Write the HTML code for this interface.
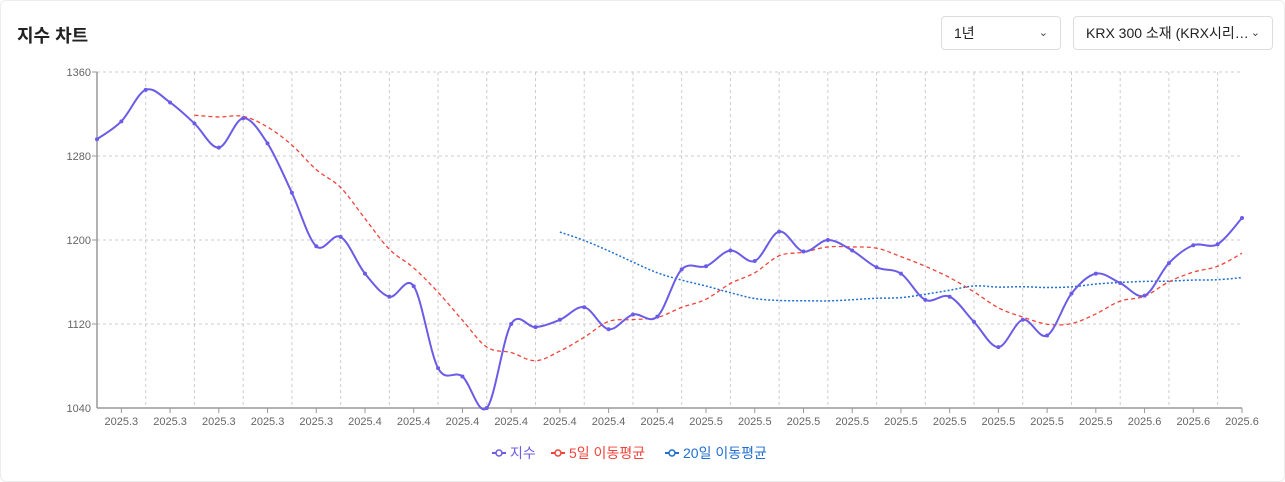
<!DOCTYPE html>
<html><head><meta charset="utf-8"><style>
body{margin:0;width:1285px;height:482px;background:#fff;font-family:"Liberation Sans","Noto Sans CJK KR",sans-serif;overflow:hidden}
.card{position:absolute;left:0;top:0;width:1283px;height:480px;border:1px solid #ececec;border-radius:6px}
.title{position:absolute;left:17px;top:22px;font-size:18px;font-weight:bold;color:#222}
.sel{position:absolute;top:16px;height:34px;border:1px solid #ddd;border-radius:4px;font-size:14px;color:#222;box-sizing:border-box;line-height:33px;padding-left:12px}
.sel span{position:absolute;right:12px;top:0;font-size:11px;color:#444}
</style></head><body>
<div class="card"></div>
<div class="title">지수 차트</div>
<div class="sel" style="left:941px;width:120px">1년<span>⌄</span></div>
<div class="sel" style="left:1073px;width:200px">KRX 300 소재 (KRX시리… <span>⌄</span></div>
<svg id="s" width="1285" height="482" style="position:absolute;left:0;top:0"></svg>
<script>
const v=[1296,1313,1343,1331,1311,1288,1316,1292,1245,1194,1203,1168,1146,1156,1078,1070,1040,1120,1117,1124,1136,1115,1129,1127,1172,1175,1190,1180,1208,1189,1200,1190,1174,1168,1143,1146,1122,1098,1124,1109,1149,1168,1159,1147,1178,1195,1196,1221];
const X=i=>97+i*(1145/47),Y=d=>72+(1360-d)*84/80;
let h='';
const ln=(a,b,c,d,st)=>`<line x1="${a}" y1="${b}" x2="${c}" y2="${d}" ${st}/>`;
const g='stroke="#ccc" stroke-dasharray="3,3" stroke-width="1"';
[1360,1280,1200,1120].forEach(t=>{h+=ln(97,Y(t),1242,Y(t),g);h+=`<text x="91" y="${Y(t)+4}" font-size="11" fill="#666" text-anchor="end">${t}</text>`;h+=ln(92,Y(t),97,Y(t),'stroke="#999"')});
h+=`<text x="91" y="412" font-size="11" fill="#666" text-anchor="end">1040</text>`;
for(let i=2;i<48;i+=2)h+=ln(X(i),72,X(i),408,g);
const labs=[];for(let k=0;k<24;k++)labs.push(k<5?'2025.3':k<12?'2025.4':k<21?'2025.5':'2025.6');
for(let k=0;k<24;k++){const x=X(2*k+1);h+=ln(x,408,x,413,'stroke="#999"');h+=`<text x="${x}" y="425" font-size="11" fill="#666" text-anchor="middle">${labs[k]}</text>`}
h+=ln(97,72,97,408,'stroke="#999" stroke-width="1.5"');h+=ln(97,408,1242,408,'stroke="#999" stroke-width="1.5"');
function path(pts){let d=`M${pts[0][0]},${pts[0][1]}`;for(let i=0;i<pts.length-1;i++){const p0=pts[i-1]||pts[i],p1=pts[i],p2=pts[i+1],p3=pts[i+2]||p2;const t=6;d+=` C${p1[0]+(p2[0]-p0[0])/t},${p1[1]+(p2[1]-p0[1])/t} ${p2[0]-(p3[0]-p1[0])/t},${p2[1]-(p3[1]-p1[1])/t} ${p2[0]},${p2[1]}`}return d}
function ma(n){const r=[];for(let i=n-1;i<48;i++){let s=0;for(let j=i-n+1;j<=i;j++)s+=v[j];r.push([X(i),Y(s/n)])}return r}
h+=`<path d="${path(ma(20))}" fill="none" stroke="#1f6fd1" stroke-width="1.5" stroke-dasharray="2,2"/>`;
h+=`<path d="${path(ma(5))}" fill="none" stroke="#f0433a" stroke-width="1.3" stroke-dasharray="4,3"/>`;
const mp=v.map((d,i)=>[X(i),Y(d)]);
h+=`<path d="${path(mp)}" fill="none" stroke="#6b5ce7" stroke-width="2"/>`;
mp.forEach(p=>h+=`<circle cx="${p[0]}" cy="${p[1]}" r="2" fill="#6b5ce7"/>`);
const leg=[[492,'#6b5ce7','지수'],[551,'#f0433a','5일 이동평균'],[665,'#1f6fd1','20일 이동평균']];
leg.forEach(([x,c,t])=>{h+=ln(x,453,x+14,453,`stroke="${c}" stroke-width="2"`);h+=`<circle cx="${x+7}" cy="453" r="3" fill="#fff" stroke="${c}" stroke-width="1.5"/>`;h+=`<text x="${x+18}" y="458" font-size="14" fill="${c}">${t}</text>`});
document.getElementById('s').innerHTML=h;
</script>
</body></html>
